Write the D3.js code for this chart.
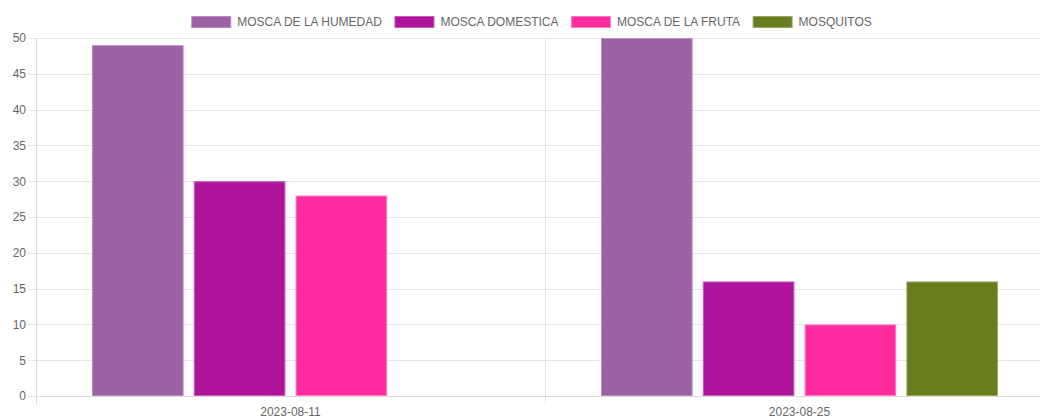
<!DOCTYPE html>
<html>
<head>
<meta charset="utf-8">
<script src="https://cdn.jsdelivr.net/npm/d3@7"></script>
<style>
  body { margin: 0; background: #fff; }
  svg { display: block; font-family: "Liberation Sans", Arial, Helvetica, sans-serif; }
</style>
</head>
<body>
<svg id="chart" width="1040" height="417"></svg>
<script>
// chart data
const categories = ['2023-08-11', '2023-08-25'];
const seriesNames = ['MOSCA DE LA HUMEDAD', 'MOSCA DOMESTICA', 'MOSCA DE LA FRUTA', 'MOSQUITOS'];
const humedad = [49, 50];
const domestica = [30, 16];
const fruta = [28, 10];
const mosquitos = [0, 16];
const yTicks = [0, 5, 10, 15, 20, 25, 30, 35, 40, 45, 50];

const seriesValues = [humedad, domestica, fruta, mosquitos];
const fills = ['#9c61a4', '#b0139b', '#ff2ca1', '#687d1d'];
const strokes = ['#b98dc0', '#c85cba', '#ff7cc4', '#98a866'];

let svg = d3.select('#chart');
let margins = {left: 36, right: -14, top: 38, bottom: 21};
let width = 1040, height = 417;
let xRng = [margins.left, width - margins.right];
let yRng = [height - margins.bottom, margins.top];

// scales
let xScale = d3.scaleBand().domain(categories).range(xRng);
let bw = xScale.bandwidth();
let xInner = d3.scaleBand().domain(seriesNames).range([0.1 * bw, 0.9 * bw]);
let yScale = d3.scaleLinear().domain([0, 50]).range(yRng);

// y grid + labels
let yAxis = svg.append('g')
    .attr('transform', 'translate(' + (margins.left - 8) + ',0)')
    .call(d3.axisLeft(yScale).tickValues(yTicks).tickSize(-(xRng[1] - xRng[0] + 8)).tickPadding(2));
yAxis.select('.domain').remove();
yAxis.selectAll('line').attr('stroke', '#e6e6e6').attr('shape-rendering', 'crispEdges');
yAxis.selectAll('text').attr('fill', '#666').style('font-size', '12px');

// x grid lines at category edges
let edges = categories.map(c => xScale(c)).concat([xRng[1]]);
svg.append('g').selectAll('line')
    .data(edges)
    .enter()
        .append('line')
        .attr('x1', d => Math.round(d) + 0.5)
        .attr('x2', d => Math.round(d) + 0.5)
        .attr('y1', yRng[1])
        .attr('y2', yRng[0] + 8)
        .attr('stroke', (d, i) => i == 0 ? '#d9d9d9' : '#e6e6e6');

// zero line
svg.append('line')
    .attr('x1', xRng[0]).attr('x2', xRng[1])
    .attr('y1', Math.round(yScale(0)) + 0.5).attr('y2', Math.round(yScale(0)) + 0.5)
    .attr('stroke', '#d9d9d9');

// x labels (cut by the bottom edge, like the reference)
svg.append('g').selectAll('text')
    .data(categories)
    .enter()
        .append('text')
        .attr('x', d => xScale(d) + bw / 2)
        .attr('y', yRng[0] + 20)
        .attr('text-anchor', 'middle')
        .attr('fill', '#666')
        .style('font-size', '12px')
        .text(d => d);

// bars
let bars = svg.append('g');
seriesNames.forEach(function(name, s) {
    bars.selectAll('rect.s' + s)
        .data(seriesValues[s].map((v, i) => ({cat: categories[i], value: v})).filter(d => d.value > 0))
        .enter()
            .append('rect')
            .attr('class', 's' + s)
            .attr('x', d => xScale(d.cat) + xInner(name) + xInner.bandwidth() * 0.05 + 0.5)
            .attr('y', d => yScale(d.value) + 0.5)
            .attr('width', xInner.bandwidth() * 0.9 - 1)
            .attr('height', d => yScale(0) - yScale(d.value) - 1)
            .attr('fill', fills[s])
            .attr('stroke', strokes[s])
            .attr('stroke-width', 1);
});

// legend
let legend = svg.append('g');
let items = [];
let cursor = 0;
let gap = 12.5;
seriesNames.forEach(function(name, s) {
    let g = legend.append('g');
    g.append('rect')
        .attr('x', 0.5).attr('y', 16.5)
        .attr('width', 39).attr('height', 11)
        .attr('fill', fills[s]).attr('stroke', strokes[s]);
    let t = g.append('text')
        .attr('x', 46).attr('y', 26)
        .attr('fill', '#666')
        .style('font-size', '12px')
        .text(name);
    let w = 46 + t.node().getComputedTextLength();
    items.push({g: g, x: cursor});
    cursor += w + gap;
});
let total = cursor - gap;
let startX = 531.5 - total / 2;
items.forEach(it => it.g.attr('transform', 'translate(' + (startX + it.x) + ',0)'));
</script>
</body>
</html>
